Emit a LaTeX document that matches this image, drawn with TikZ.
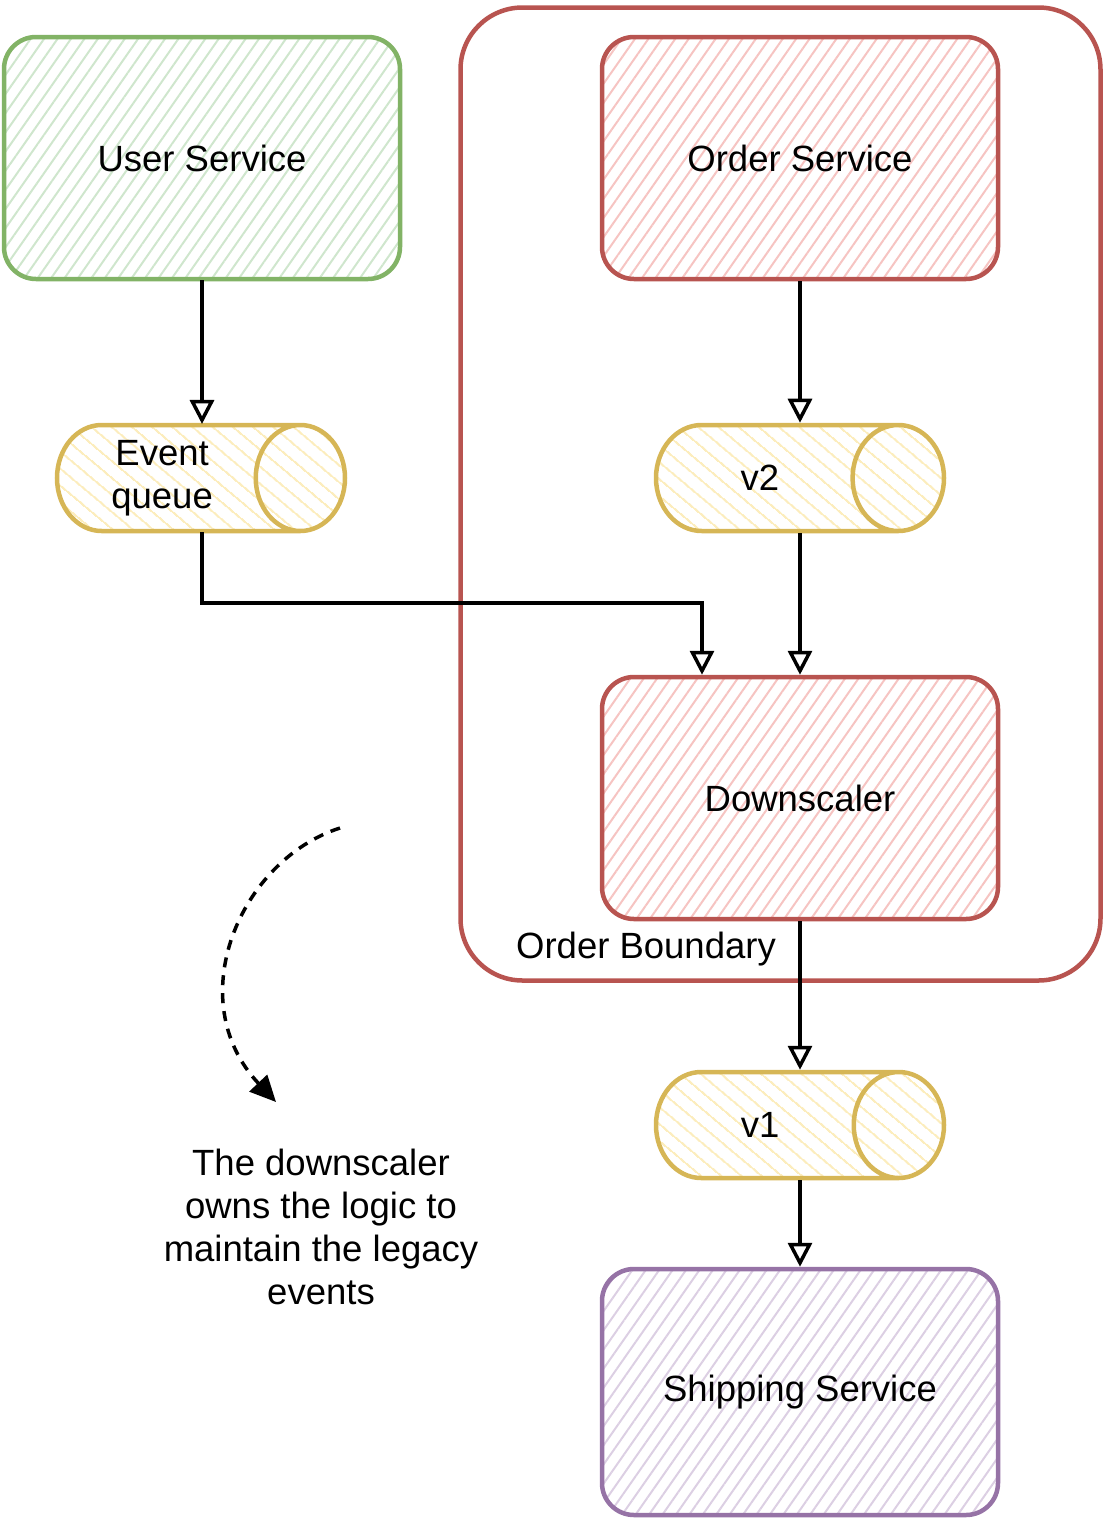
\documentclass[tikz,border=0pt]{standalone}
\usepackage{fontspec}
\setmainfont{Liberation Sans}
\usepackage{tikz}
\usetikzlibrary{shapes.geometric, patterns.meta, arrows.meta}

\definecolor{userline}{HTML}{82B366}
\definecolor{userfill}{HTML}{CFE6CD}
\definecolor{orderline}{HTML}{B85450}
\definecolor{orderfill}{HTML}{F6C4C2}
\definecolor{queueline}{HTML}{D6B656}
\definecolor{queuefill}{HTML}{FCEDBD}
\definecolor{shipline}{HTML}{9673A6}
\definecolor{shipfill}{HTML}{DCCFE3}

\newcommand\qpad{\hspace*{20pt}}

\begin{document}
\begin{tikzpicture}[x=1pt, y=-1pt,
    service/.style={rectangle, draw, rounded corners=32pt, line width=4.5pt,
        minimum width=396pt, minimum height=242pt,
        pattern={Lines[angle=55, distance=11pt, line width=2pt]},
        font=\fontsize{36.5}{43}\selectfont},
    queue/.style={cylinder, shape border rotate=0, draw=queueline,
        line width=4.5pt, minimum width=106pt, minimum height=288pt, inner sep=2pt,
        pattern={Lines[angle=-40, distance=13pt, line width=2pt]}, pattern color=queuefill,
        align=center, font=\fontsize{36.5}{43}\selectfont},
    boundary/.style={rectangle, draw=orderline, rounded corners=62pt, line width=4.5pt,
        minimum width=640pt, minimum height=973pt},
    flow/.style={-{Triangle[open, length=24pt, width=24pt, line width=3.5pt]}, line width=3.5pt},
    hint/.style={-{Triangle[length=26pt, width=24pt]}, line width=3.5pt, dash pattern=on 10pt off 8pt},
    note/.style={align=center, font=\fontsize{36.5}{43}\selectfont}
]
\useasboundingbox (0,0) rectangle (1104,1521);

\node[boundary] (bound) at (780.5,494) {};
\node[service, draw=userline, pattern color=userfill] (user) at (202,158) {User Service};
\node[service, draw=orderline, pattern color=orderfill] (order) at (800,158) {Order Service};
\node[queue, aspect=1.12, anchor=shape center] (event) at (201,478) {Event\qpad\\queue\qpad};
\node[queue, aspect=3.1, anchor=shape center] (vtwo) at (800,478) {v2\qpad};
\node[service, draw=orderline, pattern color=orderfill] (down) at (800,798) {Downscaler};
\node[queue, aspect=3.1, anchor=shape center] (vone) at (800,1125) {v1\qpad};
\node[service, draw=shipline, pattern color=shipfill, minimum height=246pt] (ship) at (800,1392) {Shipping Service};
\node[note, anchor=south] (bname) at (646,970) {Order Boundary};
\node[note] (remark) at (321,1227) {The downscaler\\owns the logic to\\maintain the legacy\\events};

\coordinate (hintstart) at (340,828);
\coordinate (hintend) at (276,1102);

\draw[flow] (user.south) -- (user.south |- event.north);
\draw[flow] (order.south) -- (order.south |- vtwo.north);
\draw[flow] (order.south |- vtwo.south) -- (down.north);
\draw[flow] (user.south |- event.south) |- (702,603) -- ([xshift=-98pt]down.north);
\draw[flow] (down.south) -- (down.south |- vone.north);
\draw[flow] (down.south |- vone.south) -- (ship.north);
\draw[hint] (hintstart) .. controls (240,860) and (180,1000) .. (hintend);
\end{tikzpicture}
\end{document}
